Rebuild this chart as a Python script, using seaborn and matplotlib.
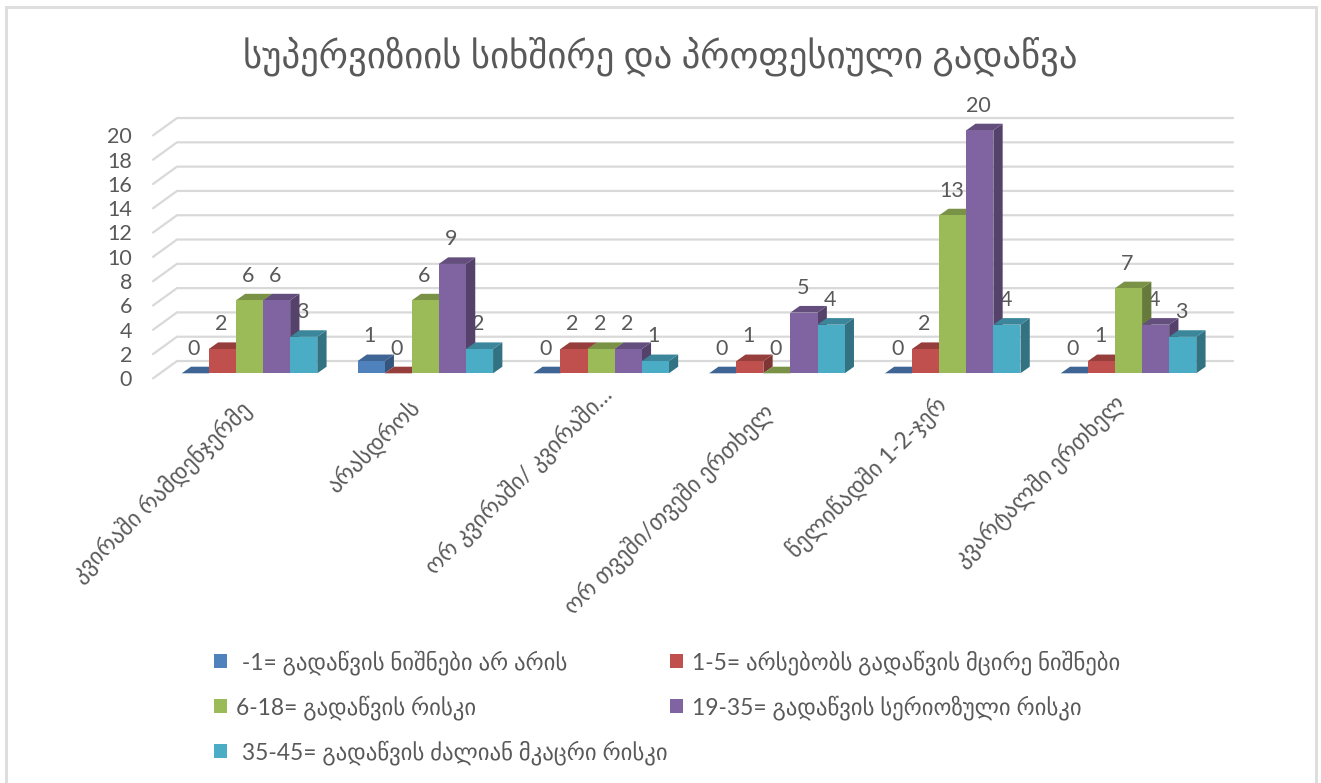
import matplotlib
matplotlib.use("Agg")
import matplotlib.pyplot as plt
import matplotlib.colors as mcolors
from matplotlib.patches import Polygon, Patch, Rectangle
from matplotlib.transforms import ScaledTranslation
import pandas as pd
import seaborn as sns

title = "სუპერვიზიის სიხშირე და პროფესიული გადაწვა"
categories = ["კვირაში რამდენჯერმე", "არასდროს", "ორ კვირაში/ კვირაში…",
              "ორ თვეში/თვეში ერთხელ", "წელიწადში 1-2-ჯერ", "კვარტალში ერთხელ"]
series_names = [" -1= გადაწვის ნიშნები არ არის", "1-5= არსებობს გადაწვის მცირე ნიშნები",
                "6-18= გადაწვის რისკი", "19-35= გადაწვის სერიოზული რისკი",
                " 35-45= გადაწვის ძალიან მკაცრი რისკი"]
s_minimal = [0, 1, 0, 0, 0, 0]
s_small = [2, 0, 2, 1, 2, 1]
s_risk = [6, 6, 2, 0, 13, 7]
s_serious = [6, 9, 2, 5, 20, 4]
s_severe = [3, 2, 1, 4, 4, 3]
colors = ["#4F81BD", "#C0504D", "#9BBB59", "#8064A2", "#4BACC6"]
yticks = list(range(0, 21, 2))
GREY = "#595959"

sns.set_theme(style="white")
plt.rcParams["font.family"] = ["Lato", "DejaVu Sans"]

W, H = 1321, 783
fig = plt.figure(figsize=(W / 100, H / 100), dpi=100, facecolor="white")
fig.add_artist(Rectangle((5.5 / W, -0.01), (1315.5 - 5.5) / W, 1 - 6.5 / H + 0.01, transform=fig.transFigure,
                         fill=False, edgecolor="#DEDEDE", linewidth=2.16))

px_left, px_right, px_base, px_top = 153, 1233, 373.3, 130.3
ax = fig.add_axes([px_left / W, (H - px_base) / H, (px_right - px_left) / W, (px_base - px_top) / H])
ax.patch.set_alpha(0)

values = [s_minimal, s_small, s_risk, s_serious, s_severe]
rows = [(c, n, v) for n, ser in zip(series_names, values) for c, v in zip(categories, ser)]
df = pd.DataFrame(rows, columns=["cat", "series", "val"])
sns.barplot(data=df, x="cat", y="val", hue="series", order=categories, hue_order=series_names,
            palette=colors, saturation=1, width=0.771, gap=0, dodge=True, legend=False, ax=ax,
            errorbar=None, linewidth=0)

unit_x, unit_y = 175.8, 12.15
x0 = 249.5
ax.set_xlim((px_left - x0) / unit_x, (px_right - x0) / unit_x)
ax.set_ylim(0, 20)
sns.despine(ax=ax, left=True, bottom=True, top=True, right=True)
ax.set_xlabel("")
ax.set_ylabel("")

# Pseudo-3D chart walls: gridlines run along the floor then across the back wall
back_x = (177 - x0) / unit_x
front_drop, back_rise = 0.42, 1.01
xmin, xmax = ax.get_xlim()
for t in yticks:
    ax.plot([xmin, back_x, xmax], [t - front_drop, t + back_rise, t + back_rise],
            color="#D9D9D9", lw=1.6, zorder=1, clip_on=False, solid_joinstyle="round")

# Pseudo-3D bar faces derived from each seaborn bar
dx, dy = 9.3 / unit_x, 6.6 / unit_y
def shade(c, f):
    r, g, b = mcolors.to_rgb(c)
    return (r * f, g * f, b * f)

for s, (cont, col) in enumerate(zip(ax.containers, colors)):
    z = 3 + s * 0.01
    for bar in cont:
        x, w, h = bar.get_x(), bar.get_width(), bar.get_height()
        bar.set_zorder(z + 0.002)
        bar.set_clip_on(False)
        ax.add_patch(Polygon([(x + w, 0), (x + w + dx, dy), (x + w + dx, h + dy), (x + w, h)],
                             closed=True, facecolor=shade(col, 0.66), edgecolor="none", zorder=z, clip_on=False))
        ax.add_patch(Polygon([(x, h), (x + dx, h + dy), (x + w + dx, h + dy), (x + w, h)],
                             closed=True, facecolor=shade(col, 0.78), edgecolor="none", zorder=z + 0.001, clip_on=False))
        ax.annotate(f"{int(h)}", (x + w / 2, h), xytext=(-1, 17.8), textcoords="offset points",
                    ha="center", va="center", fontsize=15.5, color=GREY, zorder=2, annotation_clip=False)

# Axis labels
ax.set_yticks(yticks)
ax.set_yticklabels([str(t) for t in yticks], fontsize=15.5, color=GREY)
ax.tick_params(axis="y", length=0, pad=15)
off = ScaledTranslation(0, -5 / 100, fig.dpi_scale_trans)
for lab in ax.get_yticklabels():
    lab.set_transform(lab.get_transform() + off)

ax.set_xticks(range(len(categories)))
ax.set_xticklabels(categories, rotation=45, ha="right", va="top", rotation_mode="anchor",
                   fontsize=16.6, color=GREY)
ax.tick_params(axis="x", length=0, pad=0)
label_nudge_px = [(-10.5, 24), (-17, 21), (-1, 9), (-15, 26), (-18, 19), (-16, 17)]
for lab, (nx, ny) in zip(ax.get_xticklabels(), label_nudge_px):
    lab.set_transform(lab.get_transform() + ScaledTranslation(nx / 100, -ny / 100, fig.dpi_scale_trans))

fig.text(660.5 / W, 1 - 56 / H, title, ha="center", va="center", fontsize=26.5, color=GREY)

handles = [Patch(facecolor=c, edgecolor="none", label=n) for c, n in zip(colors, series_names)]
order = [0, 2, 4, 1, 3]
leg = fig.legend([handles[i] for i in order], [series_names[i] for i in order], ncol=2,
                 loc="upper left", bbox_to_anchor=(214 / W, 1 - 650 / H), frameon=False, fontsize=16.4,
                 handlelength=0.57, handleheight=0.57, handletextpad=0.4, labelspacing=0.89, columnspacing=0.1,
                 labelcolor=GREY, borderpad=0, borderaxespad=0)

fig.savefig("out.png", dpi=100)
